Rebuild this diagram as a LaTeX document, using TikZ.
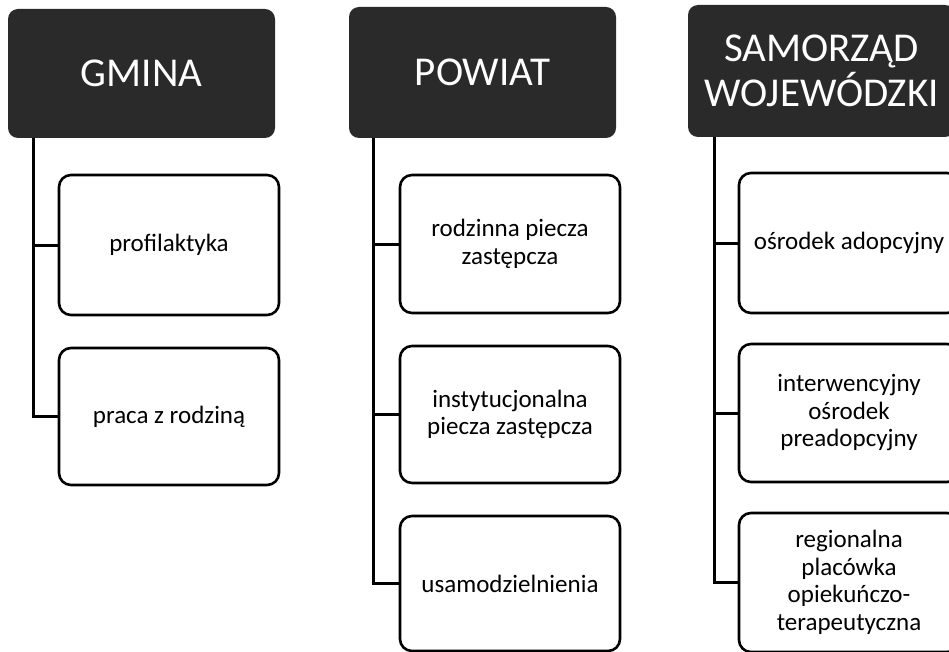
\documentclass[tikz,border=0pt]{standalone}
\usepackage{fontspec}
\setmainfont{Carlito}
\definecolor{hdrc}{RGB}{42,42,42}
\begin{document}
\begin{tikzpicture}[x=1pt,y=-1pt,
  hdr/.style={rectangle, rounded corners=10pt, fill=hdrc, text=white, minimum width=267pt, inner sep=0pt, align=center, font=\fontsize{41}{45}\selectfont},
  item/.style={rectangle, rounded corners=12pt, draw=black, line width=2.6pt, fill=white, minimum width=220pt, align=center, inner sep=0pt, font=\fontsize{25}{27.5}\selectfont},
  link/.style={line width=3pt, draw=black}]
\useasboundingbox (0,0) rectangle (949,652);
\clip (0,0) rectangle (949,652);
% column 1
\node[hdr, minimum height=129pt] (g) at (141.5,73.5) {GMINA};
\node[item, minimum height=140pt] (g1) at (169,245) {profilaktyka};
\node[item, minimum height=137pt] (g2) at (169,416.5) {praca z rodziną};
\coordinate (gl) at (33,138);
\draw[link] (gl) |- (g2.west);
\draw[link] (gl |- g1.west) -- (g1.west);
% column 2
\node[hdr, minimum height=131pt] (p) at (482.5,72.5) {POWIAT};
\node[item, minimum height=138pt] (p1) at (510,244) {rodzinna piecza\\zastępcza};
\node[item, minimum height=137pt] (p2) at (510,414.5) {instytucjonalna\\piecza zastępcza};
\node[item, minimum height=135pt] (p3) at (510,583.5) {usamodzielnienia};
\coordinate (pl) at (373,138);
\draw[link] (pl) |- (p3.west);
\draw[link] (pl |- p1.west) -- (p1.west);
\draw[link] (pl |- p2.west) -- (p2.west);
% column 3
\node[hdr, minimum height=132pt] (s) at (821.5,71) {SAMORZĄD\\WOJEWÓDZKI};
\node[item, minimum height=140pt] (s1) at (849,243) {ośrodek adopcyjny};
\node[item, minimum height=138pt] (s2) at (849,413) {interwencyjny\\ośrodek\\preadopcyjny};
\node[item, minimum height=139pt] (s3) at (849,582.5) {regionalna\\placówka\\opiekuńczo-\\terapeutyczna};
\coordinate (sl) at (714,137);
\draw[link] (sl) |- (s3.west);
\draw[link] (sl |- s1.west) -- (s1.west);
\draw[link] (sl |- s2.west) -- (s2.west);
\end{tikzpicture}
\end{document}
